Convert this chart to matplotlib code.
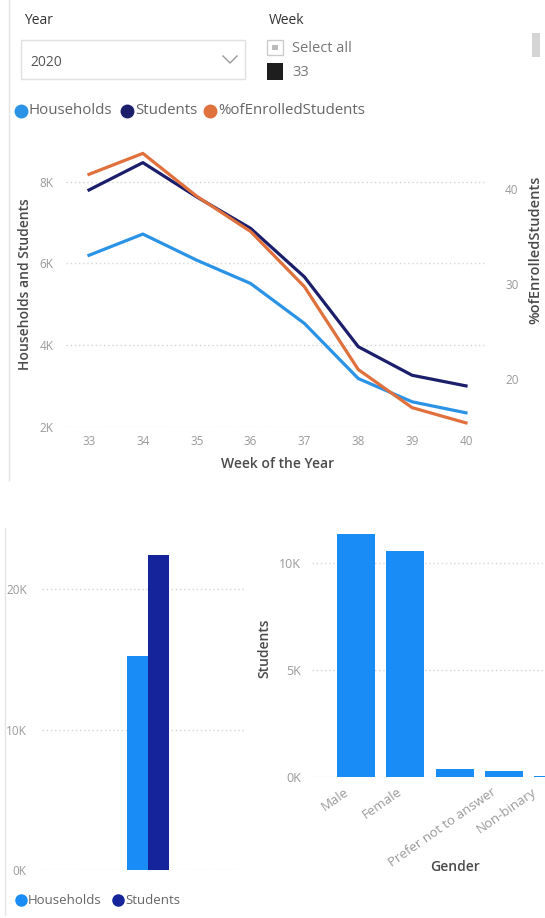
import matplotlib.pyplot as plt
from matplotlib.patches import Rectangle
from matplotlib.lines import Line2D
from matplotlib.ticker import FuncFormatter
from matplotlib.transforms import ScaledTranslation

plt.rcParams['font.family'] = ['Open Sans', 'DejaVu Sans']

# data
weeks = [33, 34, 35, 36, 37, 38, 39, 40]
households = [6200, 6720, 6080, 5510, 4530, 3180, 2610, 2340]
students = [7800, 8470, 7630, 6860, 5670, 3960, 3260, 3000]
pct_enrolled = [41.5, 43.7, 39.2, 35.5, 29.7, 21.0, 17.0, 15.4]

totals_labels = ['Households', 'Students']
totals_values = [15250, 22450]

genders = ['Male', 'Female', 'Prefer not to answer', 'Non-binary', 'Other']
gender_students = [11360, 10550, 350, 280, 50]

year_sel = '2020'
week_sel = '33'

c_house = '#2B93E6'
c_stud = '#1B1F6B'
c_pct = '#E0703C'
c_bar_house = '#1A8CF5'
c_bar_stud = '#15249A'
tick_c = '#9A9A9A'
title_c = '#4A4A4A'
grid_c = '#D6D6D6'

W, H = 545, 918
fig = plt.figure(figsize=(W / 100, H / 100), dpi=100)


def fx(x):
    return x / W


def fy(y):
    return 1 - y / H


def ax_at(x0, y0, x1, y1):
    return fig.add_axes([fx(x0), fy(y1), fx(x1) - fx(x0), fy(y0) - fy(y1)])


def kfmt(v, pos):
    return f'{int(round(v / 1000))}K'


def dot(x, y, col, size=8):
    fig.add_artist(Line2D([fx(x)], [fy(y)], marker='o', markersize=size,
                          color=col, linestyle='none'))


# panel borders
fig.add_artist(Line2D([fx(9), fx(9)], [fy(0), fy(480)], color='#E4E4E4', lw=1))
fig.add_artist(Line2D([fx(5), fx(5)], [fy(528), fy(915)], color='#E4E4E4', lw=1))

# slicers
fig.text(fx(24), fy(21), 'Year', fontsize=10, color='#333333', va='center')
fig.add_artist(Rectangle((fx(21), fy(79)), fx(245) - fx(21), fy(40) - fy(79),
                         fill=False, edgecolor='#E0E0E0', lw=1))
fig.text(fx(30), fy(62), year_sel, fontsize=10, color='#555555', va='center')
fig.add_artist(Line2D([fx(223), fx(230), fx(237)], [fy(56), fy(63), fy(56)],
                      color='#999999', lw=1))
fig.text(fx(269), fy(21), 'Week', fontsize=10, color='#333333', va='center')
fig.add_artist(Rectangle((fx(267), fy(55)), fx(283) - fx(267), fy(40) - fy(55),
                         fill=False, edgecolor='#CCCCCC', lw=1))
fig.add_artist(Rectangle((fx(272), fy(50)), fx(278) - fx(272), fy(45) - fy(50),
                         color='#BBBBBB', lw=0))
fig.text(fx(292), fy(48), 'Select all', fontsize=10.5, color='#777777', va='center')
fig.add_artist(Rectangle((fx(267), fy(80)), fx(283) - fx(267), fy(63) - fy(80),
                         color='#1E1E1E', lw=0))
fig.text(fx(292), fy(73), week_sel, fontsize=10.5, color='#777777', va='center')
fig.add_artist(Rectangle((fx(532), fy(57)), fx(540) - fx(532), fy(33) - fy(57),
                         color='#D4D4D4', lw=0))

# top legend
for cx, tx, col, lab in [(21, 29, c_house, 'Households'),
                         (127, 135, c_stud, 'Students'),
                         (210, 218, c_pct, '%ofEnrolledStudents')]:
    dot(cx, 111, col, 9)
    fig.text(fx(tx), fy(111), lab, fontsize=10.8, color='#666666', va='center')

# line chart
ax = ax_at(66, 141, 487, 426.7)
ax.plot(weeks, households, color=c_house, lw=2.3, zorder=3)
ax.plot(weeks, students, color=c_stud, lw=2.3, zorder=4)
ax.set_xlim(32.573, 40.39)
ax.set_ylim(2000, 9000)
ax.set_yticks([2000, 4000, 6000, 8000])
ax.yaxis.set_major_formatter(FuncFormatter(kfmt))
ax.set_xticks(weeks)
ax.grid(axis='y', color=grid_c, linestyle=(0, (1, 2)), lw=1)
ax.tick_params(length=0, labelsize=8.5, labelcolor=tick_c)
ax.tick_params(axis='y', pad=9)
ax.tick_params(axis='x', pad=6)
for s in ax.spines.values():
    s.set_visible(False)
ax.set_xlabel('Week of the Year', fontsize=10, color=title_c, fontweight='semibold')
ax.xaxis.set_label_coords((278 - 66) / 421, -0.105)
ax.set_ylabel('Households and Students', fontsize=10, color=title_c,
              fontweight='semibold')
ax.yaxis.set_label_coords((32 - 66) / 421, 0.5)

ax2 = ax.twinx()
ax2.plot(weeks, pct_enrolled, color=c_pct, lw=2.3, zorder=3)
ax2.set_ylim(15, 45)
ax2.set_yticks([20, 30, 40])
ax2.tick_params(length=0, labelsize=8.5, labelcolor=tick_c, pad=13)
for s in ax2.spines.values():
    s.set_visible(False)
ax2.set_ylabel('%ofEnrolledStudents', fontsize=10.5, color=title_c,
               fontweight='semibold')
ax2.yaxis.set_label_coords((528 - 66) / 421, 0.62)

# totals bar chart
axb = ax_at(42, 533, 245, 870)
xb = [-0.1035, 0.1035]
axb.bar(xb, totals_values, width=0.207, color=[c_bar_house, c_bar_stud], zorder=3)
axb.set_xlim(-1.04, 0.96)
axb.set_ylim(0, 24000)
axb.set_yticks([0, 10000, 20000])
axb.yaxis.set_major_formatter(FuncFormatter(kfmt))
axb.set_xticks([])
axb.grid(axis='y', color=grid_c, linestyle=(0, (1, 2)), lw=1)
axb.tick_params(length=0, labelsize=8.5, labelcolor=tick_c, pad=11)
for s in axb.spines.values():
    s.set_visible(False)

for cx, tx, col, lab in [(21, 28, c_bar_house, totals_labels[0]),
                         (118, 125, c_bar_stud, totals_labels[1])]:
    dot(cx, 900, col, 8)
    fig.text(fx(tx), fy(900), lab, fontsize=9.5, color='#666666', va='center')

# gender bar chart
axg = ax_at(312, 520, 578, 776.7)
xg = list(range(len(genders)))
axg.bar(xg, gender_students, width=0.77, color=c_bar_house, zorder=3)
axg.set_xlim(-0.892, 4.5)
axg.set_ylim(0, 12000)
axg.set_yticks([0, 5000, 10000])
axg.yaxis.set_major_formatter(FuncFormatter(kfmt))
axg.set_xticks(xg)
axg.set_xticklabels([])
# rotated category labels, shifted like the Power BI layout
label_shift = [-8, -5, 40, 31, 80]
for i, (name, dx) in enumerate(zip(genders, label_shift)):
    tr = axg.get_xaxis_transform() + ScaledTranslation(dx / 100, -0.14,
                                                        fig.dpi_scale_trans)
    axg.text(i, 0, name, transform=tr, rotation=35, ha='right', va='center',
             rotation_mode='anchor', fontsize=9.5, color=tick_c, clip_on=False)
axg.grid(axis='y', color=grid_c, linestyle=(0, (1, 2)), lw=1)
axg.tick_params(length=0, labelsize=9, labelcolor=tick_c)
axg.tick_params(axis='y', pad=8)
for s in axg.spines.values():
    s.set_visible(False)
axg.set_ylabel('Students', fontsize=10, color=title_c, fontweight='semibold')
axg.yaxis.set_label_coords((271 - 312) / 266, 0.5)
fig.text(fx(455), fy(867), 'Gender', fontsize=10, color=title_c,
         fontweight='semibold', ha='center', va='center')

fig.savefig('out.png', dpi=100)
